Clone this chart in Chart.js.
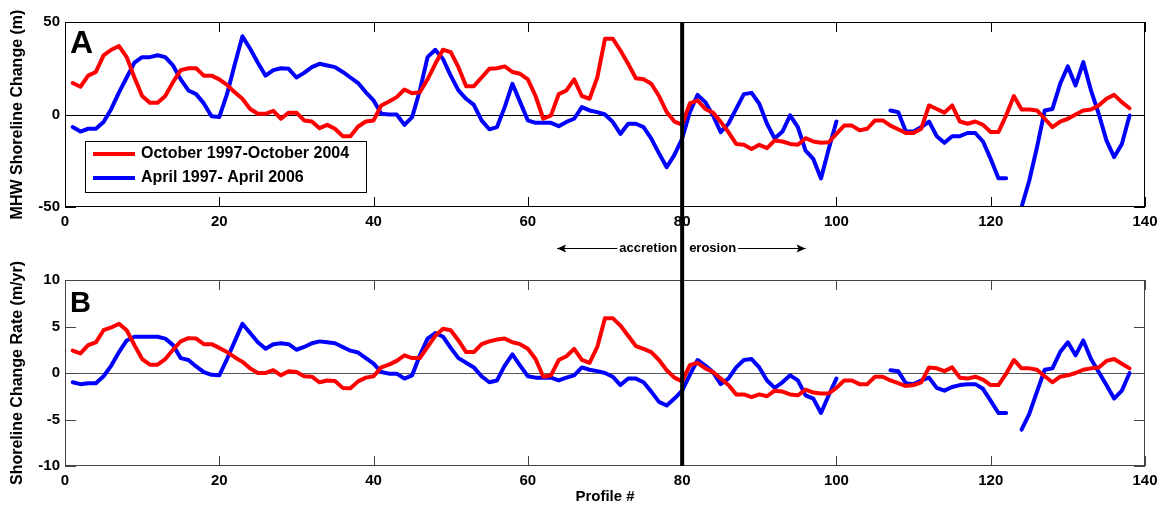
<!DOCTYPE html>
<html lang="en">
<head>
  <meta charset="UTF-8">
  <title>Shoreline change</title>
  <script src="https://cdn.jsdelivr.net/npm/chart.js"></script>
  <style>
    body { margin: 0; background: #fff; }
    .panel { position: absolute; left: 0; width: 1167px; }
  </style>
</head>
<body>
  <div class="panel" style="top:0; height:260px"><canvas id="chartA" width="1167" height="260"></canvas></div>
  <div class="panel" style="top:260px; height:252px"><canvas id="chartB" width="1167" height="252"></canvas></div>

  <script>
    const profiles = [
      1, 2, 3, 4, 5, 6, 7, 8, 9, 10, 11, 12, 13, 14, 15, 16, 17, 18, 19, 20,
      21, 22, 23, 24, 25, 26, 27, 28, 29, 30, 31, 32, 33, 34, 35, 36, 37, 38, 39, 40,
      41, 42, 43, 44, 45, 46, 47, 48, 49, 50, 51, 52, 53, 54, 55, 56, 57, 58, 59, 60,
      61, 62, 63, 64, 65, 66, 67, 68, 69, 70, 71, 72, 73, 74, 75, 76, 77, 78, 79, 80,
      81, 82, 83, 84, 85, 86, 87, 88, 89, 90, 91, 92, 93, 94, 95, 96, 97, 98, 99, 100,
      101, 102, 103, 104, 105, 106, 107, 108, 109, 110, 111, 112, 113, 114, 115, 116, 117, 118, 119, 120,
      121, 122, 123, 124, 125, 126, 127, 128, 129, 130, 131, 132, 133, 134, 135, 136, 137, 138
    ];

    // MHW shoreline change (m), panel A
    const octChange = [
      17, 15, 21, 23, 32, 35, 37, 31, 20, 10,
      6.3, 6.3, 10, 17.5, 24, 25, 25, 21, 21, 19,
      16, 12, 8.5, 3, 0.4, 0.4, 2, -2.3, 1, 1,
      -3.2, -3.8, -7.4, -5.6, -7.7, -11.7, -11.7, -6.5, -3.8, -3.2,
      4.9, 7, 9.4, 13.5, 11.5, 12, 19, 27.4, 35, 33.7,
      25.6, 15.3, 15.3, 20, 24.7, 25, 26, 23, 22, 19,
      10, -2.3, -0.5, 11, 13, 19, 10, 8.5, 20, 41,
      41, 34.6, 27.4, 19.6, 19, 16.6, 10, 1.3, -3.8, -5.5,
      6, 7.6, 3, 1, -4, -9.5, -15.9, -16.4, -18.6, -16.4,
      -18.2, -14, -14.6, -15.9, -16.4, -12.8, -14.6, -15.3, -15, -10.5,
      -6, -6, -8.5, -7.7, -3.2, -3.2, -6, -8, -10, -10,
      -7.7, 4.9, 3, 1, 4.9, -3.8, -5, -3.8, -5.6, -9.5,
      -9.5, -0.5, 10, 2.7, 2.7, 2.2, -2.3, -6.8, -3.8, -2.3,
      0, 2.2, 2.7, 4.9, 8.5, 10.6, 6.7, 3.4
    ];
    const aprChange = [
      -6.8, -9.2, -7.7, -7.7, -4, 3, 12, 20, 28, 31,
      31, 32, 31, 26.5, 19, 13, 11, 6, -1, -1.4,
      11, 27, 42.3, 35.5, 28, 21, 24, 25, 24.7, 20,
      22.5, 25.6, 27.4, 26.5, 25.6, 23, 20, 17, 12, 7.6,
      0.4, 0, 0, -5.6, -1.4, 13, 31, 35, 30, 21,
      13, 8.5, 5.2, -3.2, -8, -6.8, 4, 16.6, 6.7, -3.2,
      -4.5, -4.5, -4.5, -6.3, -4, -2.3, 4, 2.2, 1.3, 0,
      -4, -10.5, -5, -5, -6.8, -13, -21, -28.5, -21.8, -13,
      1.3, 10.6, 6.7, -0.5, -9.5, -5, 3, 11, 11.7, 5.8,
      -5, -13, -9.2, -0.5, -6.8, -19.5, -24, -34.6, -18.6, -3.8,
      null, null, null, null, null, null, 2.2, 1.3, -9.2, -9.2,
      -6.8, -3.8, -11.7, -15.3, -11.7, -11.7, -10, -10, -14.6, -24,
      -34.4, -34.4, null, -50, -35.7, -17.7, 2.2, 3, 16.6, 26,
      15.7, 28.3, 13, 0.4, -14, -23, -15.9, -0.5
    ];

    // shoreline change rate (m/yr), panel B
    const octRate = [
      2.4, 2.1, 3, 3.3, 4.6, 4.9, 5.3, 4.6, 3, 1.5,
      0.9, 0.9, 1.5, 2.5, 3.4, 3.75, 3.7, 3.1, 3.1, 2.7,
      2.25, 1.7, 1.2, 0.5, 0, 0, 0.3, -0.25, 0.2, 0.1,
      -0.35, -0.4, -1, -0.8, -0.85, -1.6, -1.65, -0.9, -0.5, -0.35,
      0.6, 0.9, 1.3, 1.9, 1.6, 1.6, 2.8, 4, 4.75, 4.6,
      3.5, 2.25, 2.25, 3.1, 3.4, 3.6, 3.7, 3.3, 3.1, 2.6,
      1.5, -0.4, -0.25, 1.4, 1.8, 2.6, 1.4, 1.1, 2.8, 5.9,
      5.9, 5.1, 4, 2.9, 2.6, 2.25, 1.4, 0.3, -0.5, -0.9,
      0.85, 1.1, 0.5, 0.1, -0.6, -1.3, -2.3, -2.3, -2.6, -2.3,
      -2.5, -1.9, -2, -2.3, -2.4, -1.8, -2.1, -2.2, -2.2, -1.6,
      -0.8, -0.8, -1.2, -1.2, -0.4, -0.4, -0.8, -1.1, -1.4, -1.3,
      -1, 0.6, 0.5, 0.2, 0.6, -0.5, -0.6, -0.4, -0.7, -1.3,
      -1.3, -0.07, 1.4, 0.5, 0.5, 0.35, -0.35, -1, -0.4, -0.25,
      0, 0.35, 0.5, 0.6, 1.3, 1.5, 1, 0.5
    ];
    const aprRate = [
      -1, -1.2, -1.1, -1.1, -0.35, 0.8, 2.25, 3.5, 3.9, 3.9,
      3.9, 3.9, 3.7, 3, 1.6, 1.4, 0.7, 0.1, -0.2, -0.25,
      1.5, 3.4, 5.3, 4.3, 3.3, 2.6, 3.1, 3.2, 3.1, 2.5,
      2.8, 3.2, 3.4, 3.3, 3.2, 2.8, 2.4, 2.2, 1.6, 1,
      0.1, -0.07, -0.07, -0.6, -0.25, 1.9, 3.7, 4.3, 3.9, 2.7,
      1.6, 1.1, 0.6, -0.35, -1, -0.8, 0.8, 2, 0.8, -0.35,
      -0.5, -0.5, -0.5, -0.8, -0.5, -0.25, 0.6, 0.35, 0.2, 0,
      -0.4, -1.3, -0.6, -0.6, -1, -2, -3.1, -3.5, -2.75, -1.9,
      -0.2, 1.4, 0.8, 0.1, -1.2, -0.6, 0.6, 1.4, 1.5, 0.6,
      -0.8, -1.6, -1, -0.25, -0.8, -2.4, -2.75, -4.3, -2.4, -0.6,
      null, null, null, null, null, null, 0.3, 0.2, -1.1, -1.2,
      -0.8, -0.5, -1.6, -1.9, -1.5, -1.3, -1.2, -1.2, -1.7, -3,
      -4.3, -4.3, null, -6.1, -4.4, -2, 0.35, 0.5, 2.25, 3.3,
      1.9, 3.5, 1.5, 0.1, -1.3, -2.75, -1.9, 0
    ];

    const seriesNames = ['October 1997-October 2004', 'April 1997- April 2006'];
    const seriesColors = ['#ff0000', '#0000ff'];
    const boundaryProfile = 80;
    const arrowSpan = [63.8, 96];

    const FONT = '"Liberation Sans", Arial, sans-serif';

    function points(values) {
      return profiles.map((p, i) => ({ x: p, y: values[i] }));
    }

    function makeDatasets(red, blue) {
      return [red, blue].map((vals, i) => ({
        label: seriesNames[i],
        data: points(vals),
        borderColor: seriesColors[i],
        backgroundColor: seriesColors[i],
        borderWidth: 4,
        pointRadius: 0,
        tension: 0,
        spanGaps: false,
        borderJoinStyle: 'round',
        borderCapStyle: 'round'
      }));
    }

    // frame, inward ticks, zero line, panel letter, legend, boundary line
    const panelDecor = {
      id: 'panelDecor',
      beforeDatasetsDraw(chart, args, o) {
        const ctx = chart.ctx;
        const { left, right } = chart.chartArea;
        const y0 = Math.round(chart.scales.y.getPixelForValue(0)) + 0.5;
        ctx.save();
        ctx.strokeStyle = o.zeroColor;
        ctx.lineWidth = 1;
        ctx.beginPath();
        ctx.moveTo(left, y0);
        ctx.lineTo(right, y0);
        ctx.stroke();
        ctx.restore();
      },
      afterDatasetsDraw(chart, args, o) {
        const ctx = chart.ctx;
        const xs = chart.scales.x, ys = chart.scales.y;
        const { left, right, top, bottom } = chart.chartArea;
        ctx.save();
        ctx.strokeStyle = o.frameColor;
        ctx.lineWidth = 1;
        ctx.beginPath();
        xs.ticks.forEach(t => {
          const px = Math.round(xs.getPixelForValue(t.value)) + 0.5;
          ctx.moveTo(px, bottom); ctx.lineTo(px, bottom - 10);
          ctx.moveTo(px, top); ctx.lineTo(px, top + 10);
        });
        ys.ticks.forEach(t => {
          const py = Math.round(ys.getPixelForValue(t.value)) + 0.5;
          ctx.moveTo(left, py); ctx.lineTo(left + 11, py);
          ctx.moveTo(right, py); ctx.lineTo(right - 11, py);
        });
        ctx.stroke();
        ctx.strokeRect(left + 0.5, top + 0.5, right - left - 1, bottom - top - 1);

        ctx.fillStyle = '#000';
        ctx.font = 'bold ' + o.letterSize + 'px ' + FONT;
        ctx.textBaseline = 'top';
        ctx.textAlign = 'left';
        ctx.fillText(o.letter, left + 5, top + o.letterTop);
        ctx.restore();
      },
      afterDraw(chart, args, o) {
        const ctx = chart.ctx;
        const xs = chart.scales.x;
        const { left, top, bottom } = chart.chartArea;
        ctx.save();

        if (o.legend) {
          const bx = left + 20, by = top + 119, bw = 281, bh = 51;
          ctx.fillStyle = '#fff';
          ctx.fillRect(bx, by, bw, bh);
          ctx.strokeStyle = '#000';
          ctx.lineWidth = 1;
          ctx.strokeRect(bx + 0.5, by + 0.5, bw, bh);
          ctx.font = 'bold 16px ' + FONT;
          ctx.textBaseline = 'middle';
          ctx.textAlign = 'left';
          chart.data.datasets.forEach((ds, i) => {
            const ly = by + 13 + i * 24;
            ctx.strokeStyle = ds.borderColor;
            ctx.lineWidth = 4;
            ctx.beginPath();
            ctx.moveTo(bx + 8, ly);
            ctx.lineTo(bx + 50, ly);
            ctx.stroke();
            ctx.fillStyle = '#000';
            ctx.fillText(ds.label, bx + 56, ly);
          });
        }

        const xb = xs.getPixelForValue(boundaryProfile);

        if (o.arrows) {
          const ay = 248.5;
          ctx.font = 'bold 13px ' + FONT;
          ctx.fillStyle = '#000';
          ctx.textBaseline = 'middle';
          ctx.textAlign = 'right';
          ctx.fillText('accretion', xb - 5, ay);
          const wA = ctx.measureText('accretion').width;
          ctx.textAlign = 'left';
          ctx.fillText('erosion', xb + 7, ay);
          const wE = ctx.measureText('erosion').width;
          const xl = xs.getPixelForValue(arrowSpan[0]);
          const xr = xs.getPixelForValue(arrowSpan[1]);
          ctx.strokeStyle = '#000';
          ctx.lineWidth = 1;
          ctx.beginPath();
          ctx.moveTo(xl, ay); ctx.lineTo(xb - 7 - wA, ay);
          ctx.moveTo(xb + 9 + wE, ay); ctx.lineTo(xr, ay);
          ctx.stroke();
          ctx.beginPath();
          ctx.moveTo(xl, ay); ctx.lineTo(xl + 9, ay - 4); ctx.lineTo(xl + 7, ay); ctx.lineTo(xl + 9, ay + 4); ctx.closePath();
          ctx.moveTo(xr, ay); ctx.lineTo(xr - 9, ay - 4); ctx.lineTo(xr - 7, ay); ctx.lineTo(xr - 9, ay + 4); ctx.closePath();
          ctx.fill();
        }

        ctx.strokeStyle = '#000';
        ctx.lineWidth = 4;
        ctx.beginPath();
        if (o.lineDown) {
          ctx.moveTo(xb, top);
          ctx.lineTo(xb, chart.height);
        } else {
          ctx.moveTo(xb, 0);
          ctx.lineTo(xb, bottom);
        }
        ctx.stroke();
        ctx.restore();
      }
    };

    function axisFont(size) {
      return { family: FONT, size: size, weight: 'bold' };
    }

    function makeChart(id, cfg) {
      return new Chart(document.getElementById(id), {
        type: 'line',
        data: { datasets: makeDatasets(cfg.red, cfg.blue) },
        options: {
          responsive: false,
          animation: false,
          devicePixelRatio: 1,
          layout: { padding: { top: cfg.padTop, right: 22, left: 0, bottom: 0 } },
          plugins: {
            legend: { display: false },
            tooltip: { enabled: false },
            panelDecor: cfg.decor
          },
          scales: {
            x: {
              type: 'linear',
              min: 0,
              max: 140,
              grid: { display: false, drawTicks: false },
              border: { display: false },
              ticks: { stepSize: 20, color: '#000', font: axisFont(15), padding: 6, maxRotation: 0 },
              title: {
                display: !!cfg.xTitle,
                text: cfg.xTitle || '',
                color: '#000',
                font: axisFont(15),
                padding: { top: 0, bottom: 6 }
              },
              afterFit(s) { s.height = cfg.xHeight; }
            },
            y: {
              min: cfg.yMin,
              max: cfg.yMax,
              grid: { display: false, drawTicks: false },
              border: { display: false },
              ticks: { stepSize: cfg.yStep, color: '#000', font: axisFont(15), padding: 5 },
              title: {
                display: true,
                text: cfg.yTitle,
                color: '#000',
                font: axisFont(16),
                padding: { top: 8, bottom: 0 }
              },
              afterFit(s) { s.width = 65; }
            }
          }
        },
        plugins: [panelDecor]
      });
    }

    makeChart('chartA', {
      red: octChange, blue: aprChange,
      padTop: 22, xHeight: 53,
      yMin: -50, yMax: 50, yStep: 50,
      yTitle: 'MHW Shoreline Change (m)',
      decor: { letter: 'A', letterSize: 32, letterTop: 6, frameColor: '#000', zeroColor: '#000', legend: true, arrows: true, lineDown: true }
    });

    makeChart('chartB', {
      red: octRate, blue: aprRate,
      padTop: 20, xHeight: 46,
      yMin: -10, yMax: 10, yStep: 5,
      yTitle: 'Shoreline Change Rate (m/yr)',
      xTitle: 'Profile #',
      decor: { letter: 'B', letterSize: 29, letterTop: 9, frameColor: '#444', zeroColor: '#555', legend: false, arrows: false, lineDown: false }
    });
  </script>
</body>
</html>
